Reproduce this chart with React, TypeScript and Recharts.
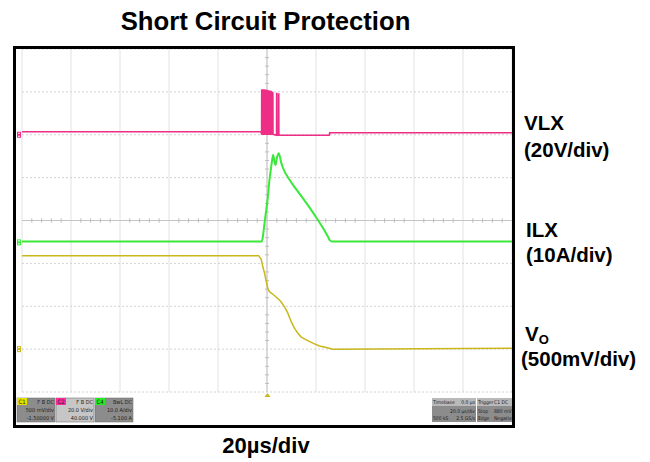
import { LineChart, Line, XAxis, YAxis, CartesianGrid, ReferenceLine, ReferenceDot } from "recharts";

// scope setup: 10 x 8 divisions, 20 µs/div, trigger at centre
const title = "Short Circuit Protection";
const timebaseLabel = "20µs/div";
const timeTicks = [-100, -80, -60, -40, -20, 0, 20, 40, 60, 80, 100];
const divTicks = [-4, -3, -2, -1, 0, 1, 2, 3, 4];
const minorTimeTicks = [
  -96, -92, -88, -84, -76, -72, -68, -64, -56, -52, -48, -44, -36, -32, -28, -24, -16, -12, -8, -4,
  4, 8, 12, 16, 24, 28, 32, 36, 44, 48, 52, 56, 64, 68, 72, 76, 84, 88, 92, 96,
];
const minorDivTicks = [
  -3.8, -3.6, -3.4, -3.2, -2.8, -2.6, -2.4, -2.2, -1.8, -1.6, -1.4, -1.2, -0.8, -0.6, -0.4, -0.2,
  0.2, 0.4, 0.6, 0.8, 1.2, 1.4, 1.6, 1.8, 2.2, 2.4, 2.6, 2.8, 3.2, 3.4, 3.6, 3.8,
];

// channel settings as shown in the scope status bar
const vlxScale = 20; // V/div
const vlxOffset = 40; // V
const ilxScale = 10; // A/div
const ilxOffset = -5.1; // A
const voScale = 0.5; // V/div
const voOffset = -1.5; // V

// traces, [time µs, value]
const vlxBase: [number, number][] = [
  [-100, 1.4],
  [-2.4, 1.4],
];
const vlxSpikeTimes = [-2.2, -1.95, -1.7, -1.45, -1.2, -0.95, -0.7, -0.45, -0.2, 0.05, 0.3, 0.55, 0.8, 1.05, 1.3, 1.55, 1.8, 2.05, 2.3, 3.9, 4.7];
const vlxSpikePeaks = [20.8, 20.9, 20.8, 20.7, 20.8, 20.6, 20.7, 20.5, 20.6, 20.4, 20.5, 20.3, 20.2, 20.3, 20.0, 20.1, 19.8, 19.7, 19.5, 19.2, 19.0];
const vlxTail: [number, number][] = [
  [4.9, -0.2],
  [25.4, -0.2],
  [25.6, 0.9],
  [100, 0.9],
];

const ilxTrace: [number, number][] = [
  [-100, 0.2], [-2.1, 0.2], [-1.7, 1.3], [-1.0, 4.5], [-0.3, 7.6], [0.3, 10.3], [1.0, 14.5],
  [1.7, 17.6], [2.1, 19.2], [2.5, 20.4], [3.05, 18.8], [3.45, 18.0], [4.0, 19.6], [4.8, 20.8],
  [5.8, 18.6], [6.5, 17.4], [9.2, 14.6], [11.9, 12.4], [14.6, 10.3], [17.4, 8.1], [20.1, 5.8],
  [22.8, 3.4], [24.8, 1.4], [25.8, 0.4], [26.4, 0.2], [100, 0.2],
];

const voTrace: [number, number][] = [
  [-100, 1.09], [-3.4, 1.09], [-2.4, 1.05], [-1.7, 0.96], [-1.0, 0.885], [-0.3, 0.79], [0.3, 0.71],
  [1.0, 0.67], [2.4, 0.64], [4.4, 0.59], [5.8, 0.55], [7.1, 0.495], [8.5, 0.42], [9.9, 0.32],
  [11.2, 0.245], [12.6, 0.185], [14.0, 0.14], [16.0, 0.107], [18.7, 0.07], [21.4, 0.037],
  [24.2, 0.018], [26.9, 0.0], [100, 0.01],
];

const PINK = "#ee2d86";
const GREEN = "#3ae83a";
const YELLOW = "#c9b71c";
const FONT = "'Liberation Sans', Arial, sans-serif";
const SMALL = "'DejaVu Sans Condensed', 'Liberation Sans Narrow', 'Liberation Sans', sans-serif";

function toDiv(points: [number, number][], scale: number, offset: number) {
  return points.map(([t, v]) => ({ t, y: (v + offset) / scale }));
}

function buildVlx(): [number, number][] {
  const pts: [number, number][] = [...vlxBase];
  vlxSpikeTimes.forEach((t, i) => {
    const low = t > 3 ? -0.2 : 0.2;
    pts.push([t, low], [t + 0.04, vlxSpikePeaks[i]], [t + 0.1, vlxSpikePeaks[i]], [t + 0.14, low]);
  });
  return [...pts, ...vlxTail];
}

const vlxData = toDiv(buildVlx(), vlxScale, vlxOffset);
const ilxData = toDiv(ilxTrace, ilxScale, ilxOffset);
const voData = toDiv(voTrace, voScale, voOffset);

const channelMarkers = [
  { y: vlxOffset / vlxScale, color: PINK },
  { y: ilxOffset / ilxScale, color: GREEN },
  { y: voOffset / voScale, color: YELLOW },
];

function Marker(props: { cx?: number; cy?: number; fill?: string }) {
  const { cx = 0, cy = 0, fill } = props;
  return (
    <g>
      <rect x={cx - 5} y={cy - 3} width={4} height={6} fill={fill} />
      <rect x={cx - 4} y={cy - 2} width={2} height={1} fill="#fff" />
      <rect x={cx - 4} y={cy + 1} width={2} height={1} fill="#fff" />
    </g>
  );
}

type BoxProps = { x: number; w: number; label: string; labelColor: string; fill: string; rows: string[] };

function ChannelBox({ x, w, label, labelColor, fill, rows }: BoxProps) {
  return (
    <g fontFamily={SMALL} fontSize={5.5} fill="#222">
      <rect x={x} y={398} width={w} height={24} fill={fill} stroke="#666" strokeWidth={0.5} />
      <rect x={x} y={398} width={10} height={7} fill={labelColor} />
      <text x={x + 1.5} y={404} fontSize={6}>{label}</text>
      <text x={x + w - 1} y={404} textAnchor="end">{rows[0]}</text>
      <text x={x + w - 1} y={412} textAnchor="end">{rows[1]}</text>
      <text x={x + w - 1} y={420} textAnchor="end">{rows[2]}</text>
    </g>
  );
}

type InfoProps = {
  x: number;
  w: number;
  split?: number;
  head: [string, string];
  row1: [string, string];
  row2: [string, string];
  clipId: string;
};

// right column right-aligned, or left-aligned at `split` and clipped to the box like on the scope
function InfoBox({ x, w, split, head, row1, row2, clipId }: InfoProps) {
  const rx = split === undefined ? x + w - 1 : x + split;
  const anchor = split === undefined ? "end" : "start";
  return (
    <g fontFamily={SMALL} fontSize={5} fill="#222">
      <clipPath id={clipId}>
        <rect x={x} y={398} width={w} height={24} />
      </clipPath>
      <rect x={x} y={398} width={w} height={8} fill="#b9b9b9" />
      <rect x={x} y={406} width={w} height={16} fill="#8c8c8c" />
      <g clipPath={`url(#${clipId})`}>
        <text x={x + 1} y={404}>{head[0]}</text>
        <text x={rx} y={404} textAnchor={anchor}>{head[1]}</text>
        <text x={x + 1} y={413}>{row1[0]}</text>
        <text x={rx} y={413} textAnchor={anchor}>{row1[1]}</text>
        <text x={x + 1} y={420}>{row2[0]}</text>
        <text x={rx} y={420} textAnchor={anchor}>{row2[1]}</text>
      </g>
    </g>
  );
}

export default function App() {
  return (
    <div style={{ position: "absolute", left: 0, top: 0, width: 650, height: 462, background: "#fff" }}>
      <LineChart width={650} height={462} margin={{ top: 49, right: 138, bottom: 70, left: 22 }}>
        <XAxis dataKey="t" type="number" domain={[-100, 100]} ticks={timeTicks} hide allowDataOverflow />
        <YAxis type="number" domain={[-4, 4]} ticks={divTicks} hide allowDataOverflow />
        <CartesianGrid horizontal={false} stroke="#e2e2e2" />
        <CartesianGrid vertical={false} stroke="#d2d2d2" strokeDasharray="2 2" />
        <ReferenceLine x={0} stroke="#c4c4c4" />
        <ReferenceLine y={0} stroke="#c4c4c4" />
        {minorTimeTicks.map((t) => (
          <ReferenceLine key={`mt${t}`} segment={[{ x: t, y: -0.05 }, { x: t, y: 0.05 }]} stroke="#bdbdbd" />
        ))}
        {minorDivTicks.map((d) => (
          <ReferenceLine key={`md${d}`} segment={[{ x: -0.8, y: d }, { x: 0.8, y: d }]} stroke="#bdbdbd" />
        ))}
        <Line data={voData} dataKey="y" type="linear" stroke={YELLOW} strokeWidth={1.5} dot={false} isAnimationActive={false} />
        <Line data={ilxData} dataKey="y" type="monotone" stroke={GREEN} strokeWidth={2} dot={false} isAnimationActive={false} />
        <Line data={vlxData} dataKey="y" type="linear" stroke={PINK} strokeWidth={1.6} dot={false} isAnimationActive={false} />
        {channelMarkers.map((m, i) => (
          <ReferenceDot key={i} x={-100} y={m.y} r={3} fill={m.color} ifOverflow="visible" shape={<Marker />} />
        ))}
      </LineChart>
      <svg width={650} height={462} style={{ position: "absolute", left: 0, top: 0, pointerEvents: "none" }}>
        <text x={265.5} y={30} textAnchor="middle" fontFamily={FONT} fontWeight="bold" fontSize={25.7} fill="#000">
          {title}
        </text>
        <rect x={14.5} y={47.5} width={499} height={379} fill="none" stroke="#000" strokeWidth={3} />
        <polygon points="264.5,397 270.5,397 267.5,393" fill={YELLOW} />
        <ChannelBox x={17} w={38} label="C1" labelColor="#e6e200" fill="#8c8c8c" rows={["F B DC", "500 mV/div", "-1.50000 V"]} />
        <ChannelBox x={56} w={38} label="C2" labelColor="#ff2a9a" fill="#c6c6c6" rows={["F B DC", "20.0 V/div", "40.000 V"]} />
        <ChannelBox x={95} w={38} label="C4" labelColor="#22ee22" fill="#8c8c8c" rows={["BwL DC", "10.0 A/div", "-5.100 A"]} />
        <InfoBox x={432} w={44} clipId="tb" head={["Timebase", "0.0 µs"]} row1={["", "20.0 µs/div"]} row2={["500 kS", "2.5 GS/s"]} />
        <InfoBox x={477} w={35} split={17} clipId="tr" head={["Trigger", "C1 DC"]} row1={["Stop", "880 mV"]} row2={["Edge", "Negative"]} />
        <g fontFamily={FONT} fontWeight="bold" fontSize={20.5} fill="#000">
          <text x={524} y={130}>VLX</text>
          <text x={524} y={157}>(20V/div)</text>
          <text x={526} y={237}>ILX</text>
          <text x={526} y={262}>(10A/div)</text>
          <text x={525} y={341}>
            V<tspan fontSize={13} dy={3}>O</tspan>
          </text>
          <text x={521} y={366}>(500mV/div)</text>
        </g>
        <text x={266} y={453} textAnchor="middle" fontFamily={FONT} fontWeight="bold" fontSize={22} fill="#000">
          {timebaseLabel}
        </text>
      </svg>
    </div>
  );
}
